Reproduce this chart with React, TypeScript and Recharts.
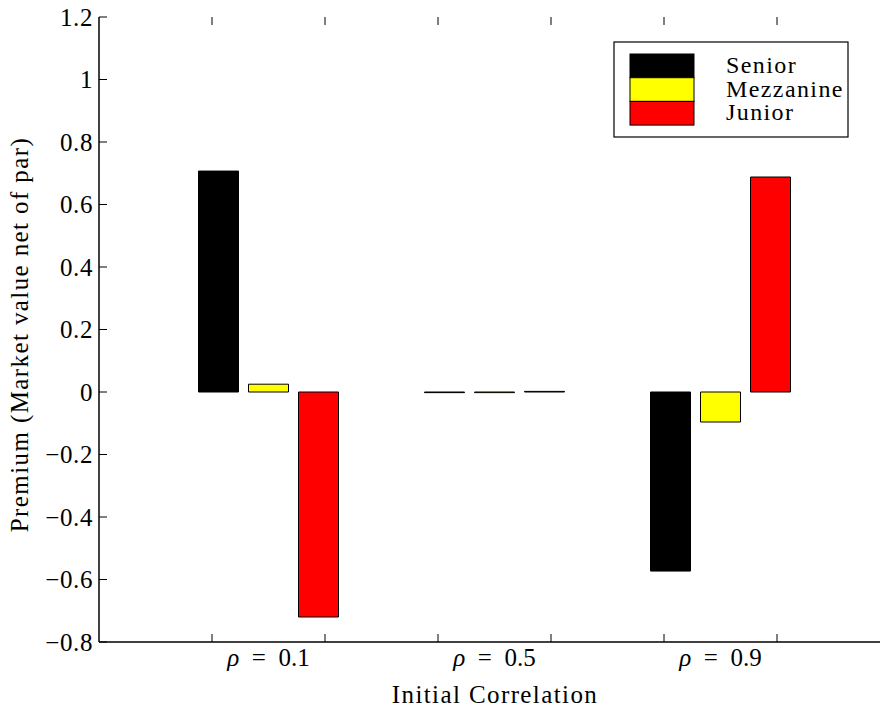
import React from 'react';
import { BarChart, Bar, XAxis, YAxis } from 'recharts';

const categories = ['0.1', '0.5', '0.9'];
const senior = [0.707, -0.002, -0.573];
const mezzanine = [0.025, -0.002, -0.096];
const junior = [-0.72, 0.002, 0.688];
const yTicks = [-0.8, -0.6, -0.4, -0.2, 0, 0.2, 0.4, 0.6, 0.8, 1, 1.2];

const series = [
  { key: 'senior', name: 'Senior', color: '#000000' },
  { key: 'mezzanine', name: 'Mezzanine', color: '#ffff00' },
  { key: 'junior', name: 'Junior', color: '#ff0000' },
];

const data = categories.map((rho, i) => ({
  rho,
  senior: senior[i],
  mezzanine: mezzanine[i],
  junior: junior[i],
}));

// layout
const CHART_W = 900;
const CHART_H = 708;
const PLOT_LEFT = 99;
const PLOT_RIGHT = 890;
const PLOT_TOP = 17;
const PLOT_BOTTOM = 642;
const PAD = 56.5;
const BAND = (PLOT_RIGHT - PLOT_LEFT - 2 * PAD) / categories.length;
const TICK_LEN = 8;
const FONT = "'Liberation Serif', 'Times New Roman', serif";
const FONT_SIZE = 25;
const SPACING = 1.4;

const fmt = (v: number) => {
  const r = Math.round(v * 10) / 10;
  if (r === 0) return '0';
  const s = Math.abs(r).toString();
  return r < 0 ? '\u2212' + s : s;
};

const YTick = (props: any) => {
  const { y, payload } = props;
  return (
    <g>
      <line x1={PLOT_LEFT} x2={PLOT_LEFT + TICK_LEN} y1={y} y2={y} stroke="#000" strokeWidth={1} />
      <text
        x={PLOT_LEFT - 6}
        y={y}
        dy="0.34em"
        textAnchor="end"
        fontFamily={FONT}
        fontSize={FONT_SIZE}
        letterSpacing={0.6}
        fill="#000"
      >
        {fmt(payload.value)}
      </text>
    </g>
  );
};

const XTick = (props: any) => {
  const { x, payload } = props;
  const q = BAND / 4;
  return (
    <g>
      {[x - q, x + q].map((tx, i) => (
        <g key={i}>
          <line x1={tx} x2={tx} y1={PLOT_BOTTOM} y2={PLOT_BOTTOM - TICK_LEN} stroke="#000" strokeWidth={1} />
          <line x1={tx} x2={tx} y1={PLOT_TOP} y2={PLOT_TOP + TICK_LEN} stroke="#000" strokeWidth={1} />
        </g>
      ))}
      <text x={x} y={666} textAnchor="middle" fontFamily={FONT} fontSize={FONT_SIZE} fill="#000">
        <tspan fontStyle="italic">ρ</tspan>
        <tspan>{'\u2002=\u2002' + payload.value}</tspan>
      </text>
    </g>
  );
};

const XLabel = () => (
  <text
    x={495}
    y={703}
    textAnchor="middle"
    fontFamily={FONT}
    fontSize={FONT_SIZE}
    letterSpacing={SPACING}
    fill="#000"
  >
    Initial Correlation
  </text>
);

const YLabel = () => (
  <text
    transform={`translate(28, ${(PLOT_TOP + PLOT_BOTTOM) / 2 + 5}) rotate(-90)`}
    textAnchor="middle"
    fontFamily={FONT}
    fontSize={FONT_SIZE}
    letterSpacing={SPACING}
    fill="#000"
  >
    Premium (Market value net of par)
  </text>
);

const LegendBox = () => {
  const rowH = 23.7;
  return (
    <svg
      width={236}
      height={97}
      style={{ position: 'absolute', left: 613, top: 41 }}
    >
      <rect x={1} y={1} width={234} height={95} fill="#fff" stroke="#000" strokeWidth={1.2} />
      {series.map((s, i) => (
        <g key={s.key}>
          <rect
            x={17}
            y={13 + i * rowH}
            width={64}
            height={rowH}
            fill={s.color}
            stroke="#000"
            strokeWidth={1}
          />
          <text
            x={113}
            y={32 + i * rowH}
            fontFamily={FONT}
            fontSize={FONT_SIZE - 1}
            letterSpacing={SPACING}
            fill="#000"
          >
            {s.name}
          </text>
        </g>
      ))}
    </svg>
  );
};

export default function App() {
  return (
    <div
      style={{
        position: 'absolute',
        left: 0,
        top: 0,
        width: 880,
        height: 708,
        overflow: 'hidden',
        background: '#fff',
      }}
    >
      <BarChart
        width={CHART_W}
        height={CHART_H}
        data={data}
        margin={{ top: PLOT_TOP, right: CHART_W - PLOT_RIGHT, left: 0, bottom: 0 }}
        barSize={40}
        barGap={10}
      >
        <XAxis
          dataKey="rho"
          height={CHART_H - PLOT_BOTTOM}
          padding={{ left: PAD, right: PAD }}
          axisLine={{ stroke: '#000', strokeWidth: 1.5 }}
          tickLine={false}
          tick={<XTick />}
          interval={0}
          label={<XLabel />}
        />
        <XAxis
          xAxisId="top"
          dataKey="rho"
          orientation="top"
          height={0}
          padding={{ left: PAD, right: PAD }}
          axisLine={{ stroke: '#000', strokeWidth: 1.5 }}
          tickLine={false}
          tick={false}
        />
        <YAxis
          width={PLOT_LEFT}
          domain={[-0.8, 1.2]}
          ticks={yTicks}
          interval={0}
          allowDataOverflow
          axisLine={{ stroke: '#000', strokeWidth: 1.5 }}
          tickLine={false}
          tick={<YTick />}
          label={<YLabel />}
        />
        {series.map((s) => (
          <Bar
            key={s.key}
            dataKey={s.key}
            name={s.name}
            fill={s.color}
            stroke="#000"
            strokeWidth={1}
            isAnimationActive={false}
          />
        ))}
      </BarChart>
      <LegendBox />
    </div>
  );
}
